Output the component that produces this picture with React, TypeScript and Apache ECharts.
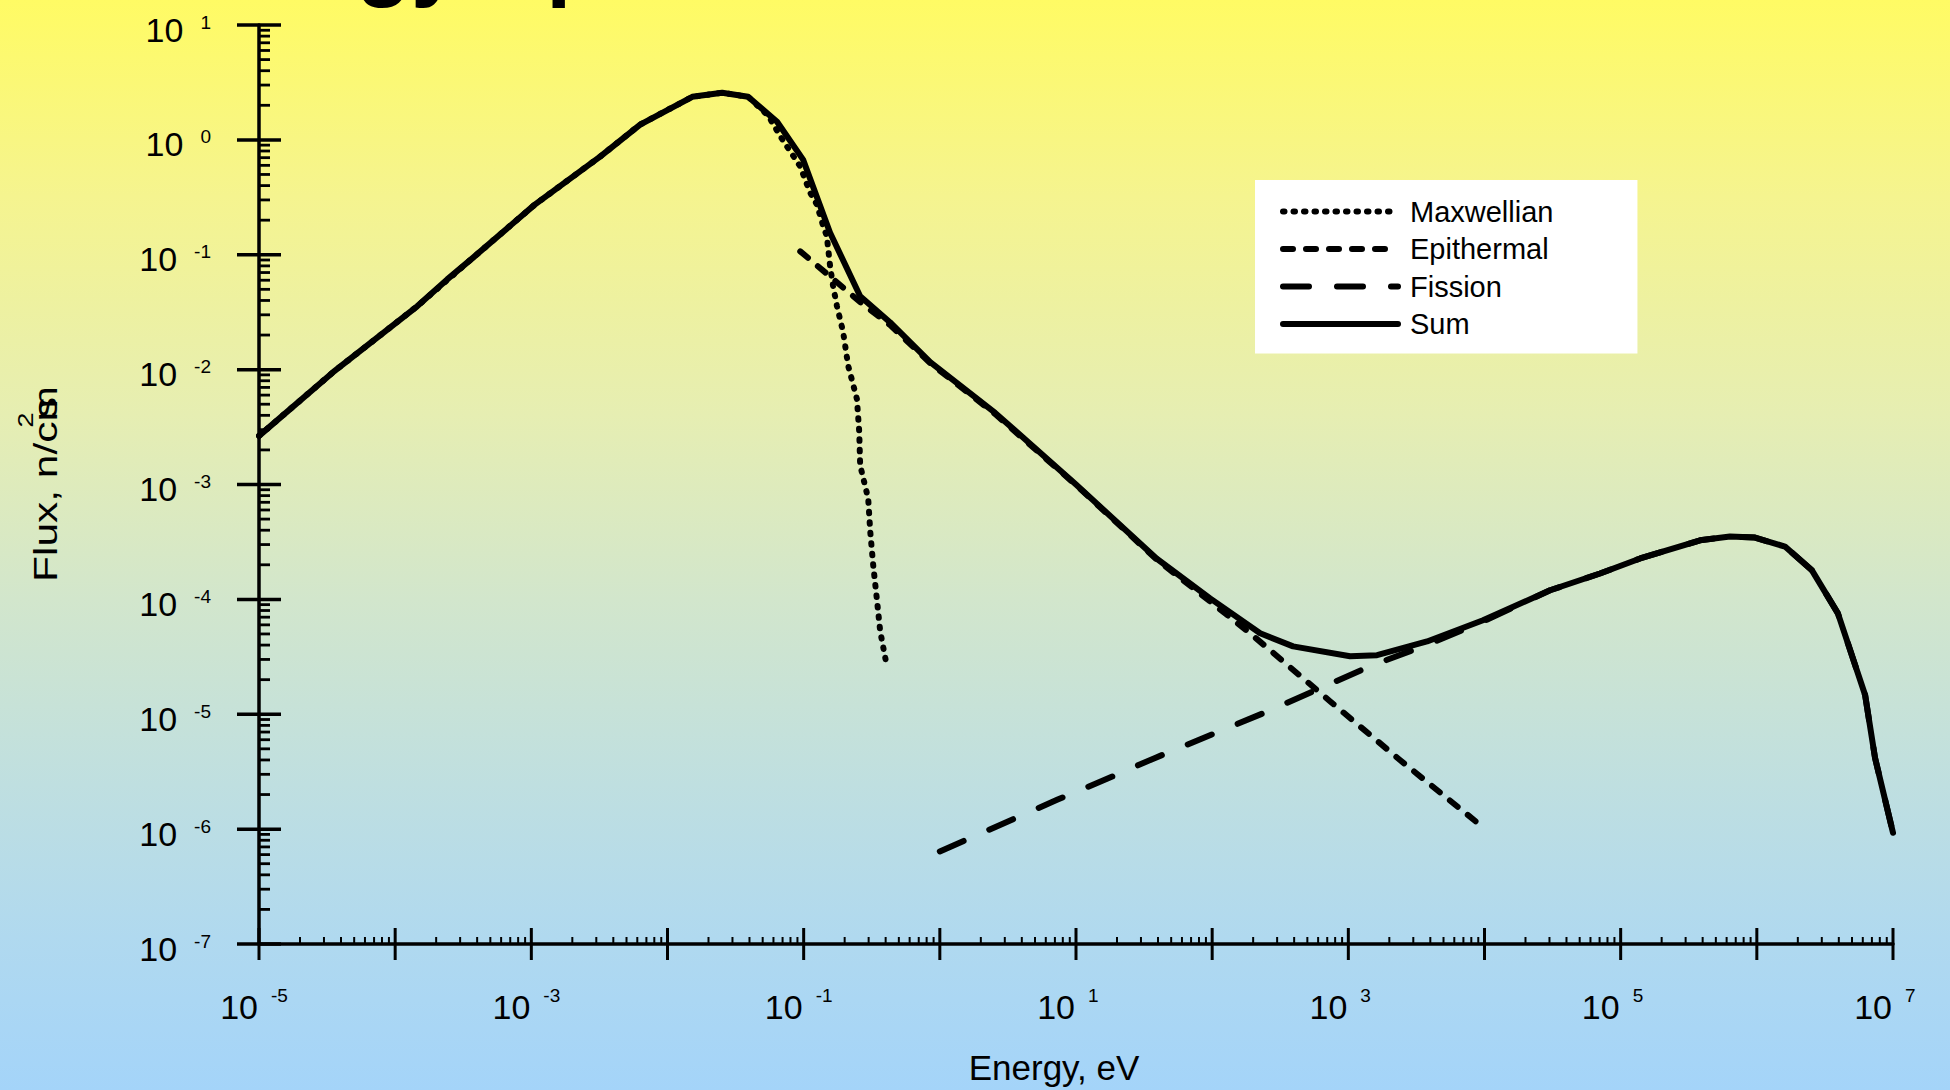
import React, { useEffect, useRef } from "react";
import * as echarts from "echarts";

const FONT = "'Liberation Sans', Arial, Helvetica, sans-serif";

// ---- Data (energy in eV, flux in n/cm^2 s) ----
const maxwellianE = [1e-5, 3.5e-5, 1.45e-4, 3.7e-4, 1.06e-3, 3.2e-3, 6.3e-3, 0.0152, 0.0252, 0.0391, 0.055, 0.0676, 0.0753, 0.0942, 0.1114, 0.125, 0.1393, 0.1479, 0.1563, 0.1644, 0.1754, 0.195, 0.2123, 0.246, 0.2559, 0.26, 0.2979, 0.3083, 0.3243, 0.3443, 0.3648, 0.4083];
const maxwellianF = [2.65e-3, 9.5e-3, 0.0356, 0.0935, 0.273, 0.715, 1.36, 2.37, 2.57, 2.37, 1.62, 1.07, 0.879, 0.589, 0.348, 0.274, 0.177, 0.145, 0.0798, 0.0535, 0.0359, 0.0212, 0.0108, 5.56e-3, 2.87e-3, 1.47e-3, 7.5e-4, 3.89e-4, 1.97e-4, 1.02e-4, 5.27e-5, 2.62e-5];

const epithermalE = [0.0944, 0.1178, 0.261, 0.43, 0.85, 2.55, 10, 39, 96.6, 190, 733, 2393, 9000];
const epithermalF = [0.107, 0.0859, 0.0386, 0.0245, 0.0114, 4.1e-3, 9.9e-4, 2.23e-4, 9.6e-5, 5.07e-5, 1.3e-5, 4.0e-6, 1.12e-6];

const fissionE = [1.0, 7.26, 16.9, 38.1, 237, 1445, 3540, 9750, 3.03e4, 7.05e4, 1.39e5, 3.83e5, 6.35e5, 9.7e5, 1.61e6, 2.54e6, 3.94e6, 6.24e6, 7.38e6, 1e7];
const fissionF = [6.4e-7, 1.8e-6, 2.74e-6, 4.17e-6, 1.02e-5, 2.62e-5, 3.9e-5, 6.4e-5, 1.2e-4, 1.68e-4, 2.27e-4, 3.27e-4, 3.52e-4, 3.45e-4, 2.88e-4, 1.79e-4, 7.55e-5, 1.47e-5, 4.17e-6, 9.3e-7];

const sumE = [1e-5, 3.5e-5, 1.45e-4, 2.41e-4, 3.7e-4, 1.06e-3, 3.2e-3, 6.3e-3, 0.0152, 0.0252, 0.0391, 0.0638, 0.099, 0.156, 0.26, 0.43, 0.85, 2.55, 10, 39, 96.6, 225, 393, 1030, 1625, 3785, 9750, 3.03e4, 7.05e4, 1.39e5, 3.83e5, 6.35e5, 9.7e5, 1.61e6, 2.54e6, 3.94e6, 6.24e6, 7.38e6, 1e7];
const sumF = [2.65e-3, 9.5e-3, 0.0356, 0.061, 0.0935, 0.273, 0.715, 1.36, 2.37, 2.57, 2.37, 1.44, 0.673, 0.156, 0.0436, 0.0259, 0.0116, 4.2e-3, 1.0e-3, 2.27e-4, 1.02e-4, 5.07e-5, 3.9e-5, 3.2e-5, 3.27e-5, 4.3e-5, 6.58e-5, 1.2e-4, 1.68e-4, 2.27e-4, 3.27e-4, 3.52e-4, 3.45e-4, 2.88e-4, 1.79e-4, 7.55e-5, 1.47e-5, 4.17e-6, 9.3e-7];

const seriesNames = ["Maxwellian", "Epithermal", "Fission", "Sum"];

// axis structure (decade exponents); x labels on every other decade
const xDecades = [-5, -4, -3, -2, -1, 0, 1, 2, 3, 4, 5, 6, 7];
const xLabelDecades = [-5, -3, -1, 1, 3, 5, 7];
const yDecades = [-7, -6, -5, -4, -3, -2, -1, 0, 1];
const minorMultipliers = [2, 3, 4, 5, 6, 7, 8, 9];

const X_MIN = 1e-5;
const X_MAX = 1e7;
const Y_MIN = 1e-7;
const Y_MAX = 10;

const pairs = (e: number[], f: number[]) => e.map((v, i) => [v, f[i]]);

// [value, yOnAxis, kind(1 major / 0 minor), exponent]
function buildXTicks() {
  const out: number[][] = [];
  xDecades.forEach((d, i) => {
    out.push([Math.pow(10, d), Y_MIN, 1, d]);
    if (i < xDecades.length - 1) minorMultipliers.forEach((m) => out.push([m * Math.pow(10, d), Y_MIN, 0, d]));
  });
  return out;
}
function buildYTicks() {
  const out: number[][] = [];
  yDecades.forEach((d, i) => {
    out.push([X_MIN, Math.pow(10, d), 1]);
    if (i < yDecades.length - 1) minorMultipliers.forEach((m) => out.push([X_MIN, m * Math.pow(10, d), 0]));
  });
  return out;
}

const expOf = (v: number) => Math.round(Math.log10(v));

export default function App() {
  const ref = useRef<HTMLDivElement>(null);

  useEffect(() => {
    if (!ref.current) return;
    const chart = echarts.init(ref.current, null, { renderer: "svg" });

    const lineBase = { type: "line", symbol: "none", showSymbol: false, smooth: false };

    const option: any = {
      animation: false,
      textStyle: { fontFamily: FONT },
      grid: { left: 259, right: 57, top: 25, bottom: 143.5, containLabel: false },
      xAxis: {
        type: "log",
        logBase: 10,
        min: X_MIN,
        max: X_MAX,
        axisLine: { onZero: false, lineStyle: { color: "#000", width: 3.5 } },
        axisTick: { show: false },
        minorTick: { show: false },
        splitLine: { show: false },
        axisLabel: { show: false },
        name: "Energy, eV",
        nameLocation: "middle",
        nameGap: 106,
        nameTextStyle: { fontSize: 35, fontFamily: FONT, color: "#000", padding: [0, 44, 0, 0] },
      },
      yAxis: {
        type: "log",
        logBase: 10,
        min: Y_MIN,
        max: Y_MAX,
        splitNumber: 8,
        axisLine: { onZero: false, lineStyle: { color: "#000", width: 3.5 } },
        axisTick: { show: false },
        minorTick: { show: false },
        splitLine: { show: false },
        axisLabel: {
          margin: 48,
          align: "right",
          padding: [9, 0, 0, 0],
          showMinLabel: true,
          showMaxLabel: true,
          formatter: (v: number) => `{b|10}{g| }{s|${expOf(v)}}`,
          rich: {
            b: { fontSize: 34, fontFamily: FONT, color: "#000", lineHeight: 34 },
            g: { width: 17, fontSize: 10, lineHeight: 10 },
            s: { fontSize: 19, fontFamily: FONT, color: "#000", lineHeight: 10, verticalAlign: "top" },
          },
        },
      },
      legend: {
        orient: "vertical",
        left: 1255,
        top: 180,
        padding: [17, 84, 15, 25],
        backgroundColor: "#ffffff",
        itemWidth: 115,
        itemHeight: 1,
        itemGap: 8.5,
        selectedMode: false,
        data: seriesNames,
        lineStyle: { width: 6 },
        itemStyle: { color: "rgba(0,0,0,0)", borderWidth: 0 },
        textStyle: { fontSize: 29, fontFamily: FONT, color: "#000", lineHeight: 28, padding: [0, 0, 0, 7] },
      },
      graphic: [
        {
          type: "text",
          x: 156,
          y: -42,
          silent: true,
          style: { text: "Energy Spectrum", fontSize: 90, fontWeight: "bold", fontFamily: FONT, fill: "#000", verticalAlign: "middle", align: "left" },
        },
        {
          type: "group",
          x: 57,
          y: 582,
          rotation: Math.PI / 2,
          scaleX: 1.25,
          silent: true,
          children: [
            { type: "text", x: 0, y: -11.8, style: { text: "Flux, n/cm", fontSize: 34, fontFamily: FONT, fill: "#000", verticalAlign: "middle", align: "left" } },
            { type: "text", x: 131, y: -11.8, style: { text: "s", fontSize: 34, fontFamily: FONT, fill: "#000", verticalAlign: "middle", align: "left" } },
            { type: "text", x: 123.5, y: -31.6, style: { text: "2", fontSize: 22, fontFamily: FONT, fill: "#000", verticalAlign: "middle", align: "left" } },
          ],
        },
      ],
      series: [
        {
          type: "custom",
          silent: true,
          coordinateSystem: "cartesian2d",
          data: buildXTicks(),
          encode: { x: 0, y: 1 },
          z: 4,
          renderItem: (params: any, api: any) => {
            const major = api.value(2) === 1;
            const d = api.value(3);
            const p = api.coord([api.value(0), api.value(1)]);
            const tick = {
              type: "line",
              shape: { x1: p[0], y1: p[1] - (major ? 16 : 7), x2: p[0], y2: p[1] + (major ? 16 : 0) },
              style: { stroke: "#000", lineWidth: major ? 3 : 2 },
            };
            if (!major || xLabelDecades.indexOf(d) < 0) return tick;
            return {
              type: "group",
              children: [
                tick,
                {
                  type: "text",
                  x: p[0] - 1,
                  y: p[1] + 63,
                  style: { text: "10", fontSize: 34, fontFamily: FONT, fill: "#000", align: "right", verticalAlign: "middle" },
                },
                {
                  type: "text",
                  x: p[0] + 12,
                  y: p[1] + 51.5,
                  style: { text: String(d), fontSize: 19, fontFamily: FONT, fill: "#000", align: "left", verticalAlign: "middle" },
                },
              ],
            };
          },
        },
        {
          type: "custom",
          silent: true,
          coordinateSystem: "cartesian2d",
          data: buildYTicks(),
          encode: { x: 0, y: 1 },
          z: 4,
          renderItem: (params: any, api: any) => {
            const major = api.value(2) === 1;
            const p = api.coord([api.value(0), api.value(1)]);
            return {
              type: "line",
              shape: { x1: p[0] - (major ? 22 : 0), y1: p[1], x2: p[0] + (major ? 22 : 11), y2: p[1] },
              style: { stroke: "#000", lineWidth: major ? 3.5 : 2.8 },
            };
          },
        },
        {
          ...lineBase,
          name: "Maxwellian",
          data: pairs(maxwellianE, maxwellianF),
          itemStyle: { color: "#000" },
          lineStyle: { color: "#000", width: 6, type: [1.5, 9], cap: "round", join: "round" },
          z: 5,
        },
        {
          ...lineBase,
          name: "Epithermal",
          data: pairs(epithermalE, epithermalF),
          itemStyle: { color: "#000" },
          lineStyle: { color: "#000", width: 6, type: [10, 13], cap: "round", join: "round" },
          z: 5,
        },
        {
          ...lineBase,
          name: "Fission",
          data: pairs(fissionE, fissionF),
          itemStyle: { color: "#000" },
          lineStyle: { color: "#000", width: 6, type: [26, 28], cap: "round", join: "round" },
          z: 5,
        },
        {
          ...lineBase,
          name: "Sum",
          data: pairs(sumE, sumF),
          itemStyle: { color: "#000" },
          lineStyle: { color: "#000", width: 6, type: "solid", cap: "round", join: "round" },
          z: 6,
        },
      ],
    };

    chart.setOption(option);
    return () => chart.dispose();
  }, []);

  return (
    <div
      ref={ref}
      style={{
        position: "fixed",
        left: 0,
        top: 0,
        width: 1950,
        height: 1090,
        background:
          "linear-gradient(to bottom, #fffb64 0%, #f5f48f 18%, #e6eeb2 38%, #d2e6cc 55%, #bfdfe0 72%, #b0d9ef 86%, #a4d4f9 100%)",
      }}
    />
  );
}
